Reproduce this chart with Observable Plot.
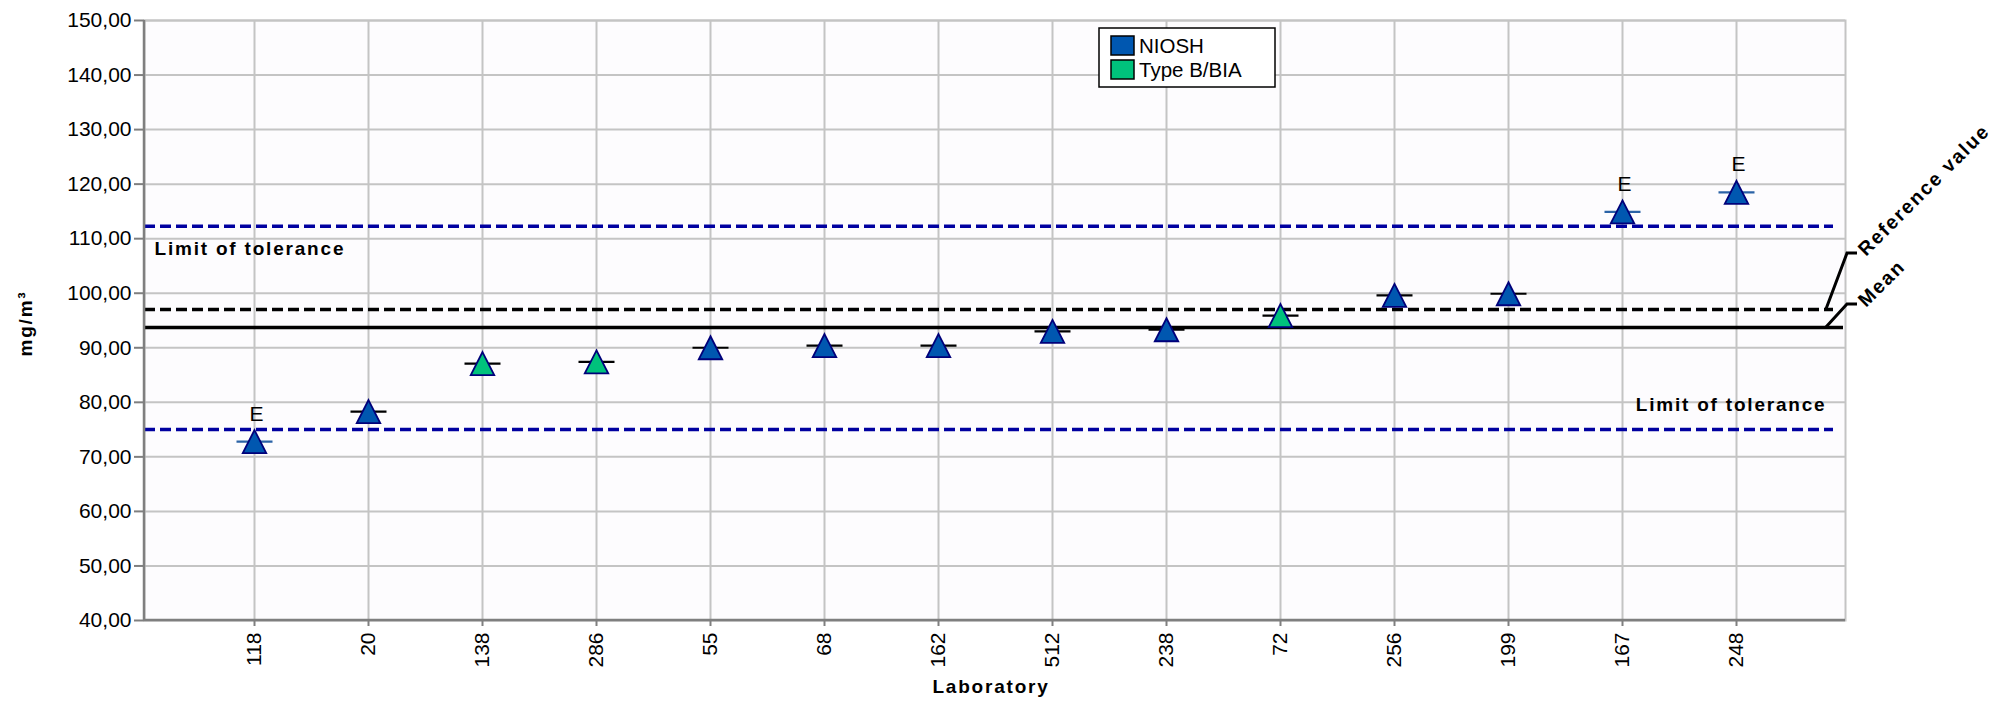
<!DOCTYPE html>
<html><head><meta charset="utf-8">
<script src="https://cdn.jsdelivr.net/npm/d3@7"></script>
<script src="https://cdn.jsdelivr.net/npm/@observablehq/plot@0.6"></script>
<style>
html,body{margin:0;padding:0;background:#fff;}
#chart{position:relative;width:1998px;height:705px;}
g[font-weight="bold"] text, text.boldlab {letter-spacing:1.8px;}
</style></head><body><div id="chart"></div>
<script>
// ---- data ----
const labs = ["118","20","138","286","55","68","162","512","238","72","256","199","167","248"];
const values = [72.8,78.3,87.1,87.4,90.0,90.4,90.4,93.0,93.3,95.9,99.6,99.9,114.9,118.5];
const methods = ["NIOSH","NIOSH","Type B/BIA","Type B/BIA","NIOSH","NIOSH","NIOSH","NIOSH","NIOSH","Type B/BIA","NIOSH","NIOSH","NIOSH","NIOSH"];
const flags = ["E","","","","","","","","","","","","E","E"];
const yTicks = [40,50,60,70,80,90,100,110,120,130,140,150];
const upperLimit = 112.3;
const lowerLimit = 75.0;
const referenceValue = 97.0;
const meanValue = 93.7;
const seriesNames = ["NIOSH","Type B/BIA"];
const seriesColors = ["#0057b0","#00c27c"];
const limitLabel = "Limit of tolerance";
const yLabel = "mg/m³";
const xLabel = "Laboratory";

(function(){
const data = labs.map((lab,i)=>({lab, value:values[i], method:methods[i], flag:flags[i]}));

const tri = {draw(ctx,size){const r=Math.sqrt(size/Math.PI); ctx.moveTo(0,-r); ctx.lineTo(r*1.02,r); ctx.lineTo(-r*1.02,r); ctx.closePath();}};
const hline = {draw(ctx,size){const r=Math.sqrt(size/Math.PI); ctx.moveTo(-r,0); ctx.lineTo(r,0);}};
const fmt = d => d.toFixed(2).replace(".", ",");

const plot = Plot.plot({
  width:1998, height:705,
  marginLeft:144, marginRight:153, marginTop:20, marginBottom:85,
  style:{fontFamily:"'Liberation Sans', Arial, sans-serif", fontSize:"21px", color:"#000", background:"#fff"},
  x:{type:"point", domain:labs, padding:0.944, label:null},
  y:{domain:[40,150], label:null},
  marks:[
    Plot.frame({fill:"#fdfcfe", stroke:"#c4c4c4", strokeWidth:2}),
    Plot.gridX(labs, {stroke:"#c4c4c4", strokeOpacity:1, strokeWidth:2}),
    Plot.gridY(yTicks, {stroke:"#c4c4c4", strokeOpacity:1, strokeWidth:2}),
    Plot.axisY(yTicks, {tickSize:10, tickPadding:3, tickFormat:fmt, stroke:"#7f7f7f", strokeWidth:2, fill:"#000", fontSize:21, label:null}),
    Plot.axisX(labs, {tickRotate:-90, tickSize:6, tickPadding:6, stroke:"#7f7f7f", strokeWidth:2, fill:"#000", fontSize:21, label:null}),
    Plot.ruleY([upperLimit, lowerLimit], {stroke:"#0000a0", strokeWidth:3.5, strokeDasharray:"11,5", insetRight:12}),
    Plot.ruleY([referenceValue], {stroke:"#000", strokeWidth:3.5, strokeDasharray:"11,5", insetRight:12}),
    Plot.ruleY([meanValue], {stroke:"#000", strokeWidth:3.5, insetRight:2}),
    Plot.dot(data, {x:"lab", y:"value", symbol:hline, r:18, fill:"none", stroke:d=>d.flag?"#2b63a6":"#000", strokeWidth:2.2}),
    Plot.dot(data, {x:"lab", y:"value", symbol:tri, r:11.5, fill:d=>seriesColors[seriesNames.indexOf(d.method)], stroke:"#00007a", strokeWidth:1.8}),
    Plot.text(data.filter(d=>d.flag), {x:"lab", y:"value", text:"flag", dx:2, dy:-21, lineAnchor:"bottom", fontSize:21, fill:"#000"}),
    Plot.text([upperLimit], {y:d=>d, frameAnchor:"left", text:()=>limitLabel, textAnchor:"start", dx:10, dy:29, lineAnchor:"bottom", fontWeight:"bold", fontSize:19, fill:"#000"}),
    Plot.text([lowerLimit], {y:d=>d, frameAnchor:"right", text:()=>limitLabel, textAnchor:"end", dx:-19, dy:-19, lineAnchor:"bottom", fontWeight:"bold", fontSize:19, fill:"#000"}),
    Plot.text([yLabel], {frameAnchor:"left", dx:-119, dy:36, rotate:-90, text:d=>d, fontWeight:"bold", fontSize:19, fill:"#000"}),
    Plot.text([xLabel], {frameAnchor:"bottom", dx:-4, dy:72, text:d=>d, fontWeight:"bold", fontSize:19, fill:"#000"})
  ]
});
document.getElementById("chart").appendChild(plot);

const svg = d3.select(plot);
const ys = plot.scale("y");
const fl = 144, fr = 1998-153, ft = 20, fb = 705-85;
const g = svg.append("g").attr("text-anchor","start");
g.append("line").attr("x1",fl).attr("x2",fl).attr("y1",ft).attr("y2",fb).attr("stroke","#7f7f7f").attr("stroke-width",2.5);
g.append("line").attr("x1",fl).attr("x2",fr).attr("y1",fb).attr("y2",fb).attr("stroke","#7f7f7f").attr("stroke-width",2.5);

const conn = [[referenceValue, 56, "Reference value"],[meanValue, 23, "Mean"]];
for (const [v, rise, label] of conn) {
  const y0 = ys.apply(v), y1 = y0 - rise;
  g.append("path").attr("d",`M${fr-19},${y0}L${fr+2},${y1}L${fr+12},${y1}`)
    .attr("fill","none").attr("stroke","#000").attr("stroke-width",3);
  g.append("text").attr("class","boldlab").attr("text-anchor","start")
    .attr("transform",`translate(${fr+21},${y1+4}) rotate(-45)`)
    .attr("font-weight","bold").attr("font-size",19.5).attr("fill","#000").text(label);
}

const lg = svg.append("g").attr("font-size",20.5).attr("fill","#000").attr("text-anchor","start");
lg.append("rect").attr("x",1099).attr("y",28).attr("width",176).attr("height",59).attr("fill","#fff").attr("stroke","#000").attr("stroke-width",1.5);
seriesNames.forEach((n,i)=>{
  lg.append("rect").attr("x",1111).attr("y",36+i*24).attr("width",23).attr("height",19).attr("fill",seriesColors[i]).attr("stroke","#000").attr("stroke-width",1.5);
  lg.append("text").attr("x",1139).attr("y",53+i*24).text(n);
});
})();
</script></body></html>
